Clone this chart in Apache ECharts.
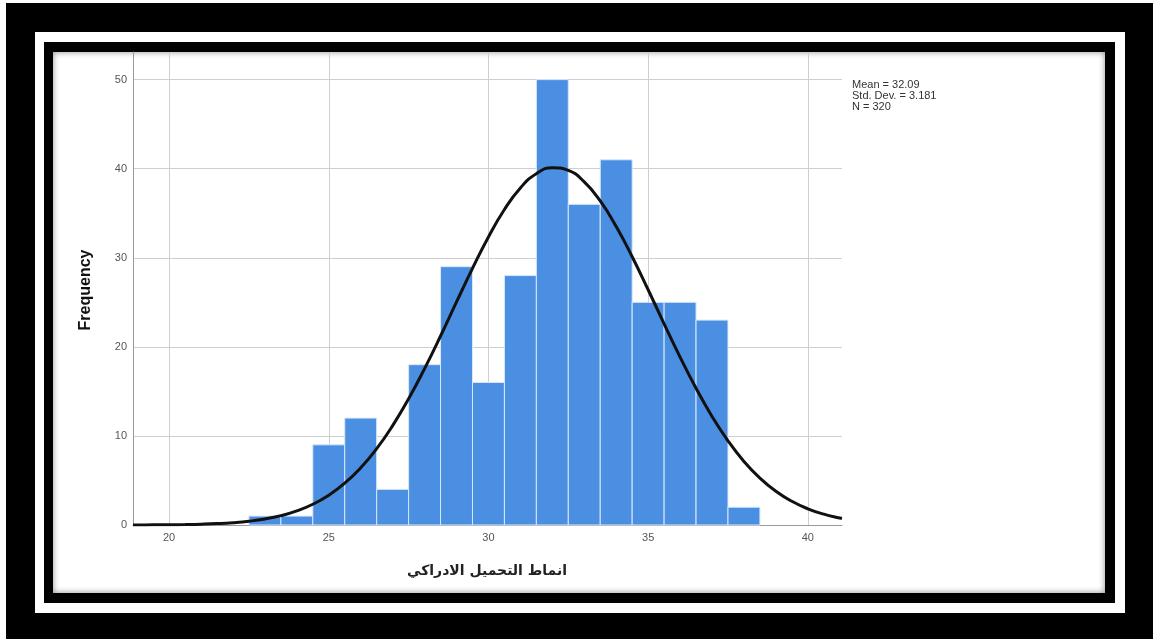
<!DOCTYPE html>
<html>
<head>
<meta charset="utf-8">
<title>Histogram</title>
<script src="https://cdn.jsdelivr.net/npm/echarts@6/dist/echarts.min.js"></script>
<style>
html, body { margin: 0; padding: 0; width: 1153px; height: 639px; overflow: hidden; background: #fff; }
.frame { position: absolute; }
#outer { left: 6px; top: 3px; width: 1147px; height: 636px; background: #000; }
#gap { left: 35px; top: 32px; width: 1090px; height: 581px; background: #fff; }
#inner { left: 44px; top: 42px; width: 1071px; height: 561px; background: #000; }
#paper { left: 53px; top: 52px; width: 1052px; height: 541px; background: #fff; box-shadow: inset 0 0 6px rgba(0,0,0,0.45); }
#main { position: absolute; left: 0; top: 0; width: 1153px; height: 639px; }
</style>
</head>
<body>
<div class="frame" id="outer"></div>
<div class="frame" id="gap"></div>
<div class="frame" id="inner"></div>
<div class="frame" id="paper"></div>
<div id="main"></div>

<script>
// histogram bins (width 1, centred on the integer)
const binCenters = [23, 24, 25, 26, 27, 28, 29, 30, 31, 32, 33, 34, 35, 36, 37, 38]
const frequencies = [1, 1, 9, 12, 4, 18, 29, 16, 28, 50, 36, 41, 25, 25, 23, 2]

// normal curve
const curveX = [18.87, 19, 19.5, 20, 20.5, 21, 21.5, 22, 22.5, 23, 23.5, 24, 24.5, 25, 25.5,
  26, 26.5, 27, 27.5, 28, 28.5, 29, 29.5, 30, 30.5, 31, 31.5, 32, 32.5, 33, 33.5, 34, 34.5,
  35, 35.5, 36, 36.5, 37, 37.5, 38, 38.5, 39, 39.5, 40, 40.5, 41, 41.07]
const curveY = [0.006, 0.008, 0.016, 0.029, 0.053, 0.092, 0.157, 0.262, 0.426, 0.677, 1.05, 1.58, 2.33, 3.35, 4.69,
  6.42, 8.57, 11.16, 14.17, 17.56, 21.22, 25.04, 28.81, 32.34, 35.42, 37.84, 39.44, 40.11, 39.8, 38.52, 36.38, 33.51, 30.12,
  26.41, 22.59, 18.85, 15.35, 12.19, 9.45, 7.14, 5.27, 3.79, 2.66, 1.82, 1.22, 0.79, 0.75]

const statLines = ['Mean = 32.09', 'Std. Dev. = 3.181', 'N = 320']
const xTitle = 'انماط التحميل الادراكي'
const yTitle = 'Frequency'

const barData = binCenters.map((c, i) => [c, frequencies[i]])
const curveData = curveX.map((x, i) => [x, curveY[i]])

const chart = echarts.init(document.getElementById('main'))

chart.setOption({
  animation: false,
  backgroundColor: 'transparent',
  grid: { left: 133, right: 311, top: 52, bottom: 114 },
  xAxis: {
    type: 'value',
    min: 18.87,
    max: 41.07,
    axisLine: { show: true, lineStyle: { color: '#9a9a9a', width: 1 } },
    axisTick: { show: false },
    axisLabel: {
      color: '#555',
      fontSize: 11,
      fontFamily: 'Liberation Sans, Arial, sans-serif',
      margin: 7,
      showMinLabel: false,
      showMaxLabel: false
    },
    splitLine: { show: true, showMinLine: false, showMaxLine: false, lineStyle: { color: '#cfcfcf', width: 1 } }
  },
  yAxis: {
    type: 'value',
    min: 0,
    max: 53.1,
    interval: 10,
    axisLine: { show: true, lineStyle: { color: '#9a9a9a', width: 1 } },
    axisTick: { show: false },
    axisLabel: {
      color: '#555',
      fontSize: 11,
      fontFamily: 'Liberation Sans, Arial, sans-serif',
      margin: 6,
      showMaxLabel: false
    },
    splitLine: { show: true, showMinLine: false, showMaxLine: false, lineStyle: { color: '#cfcfcf', width: 1 } }
  },
  graphic: [
    {
      type: 'text',
      left: 852,
      top: 79,
      style: {
        text: statLines.join('\n'),
        fill: '#333',
        fontSize: 11,
        lineHeight: 11,
        fontFamily: 'Liberation Sans, Arial, sans-serif'
      }
    },
    {
      type: 'text',
      x: 86,
      y: 290,
      rotation: Math.PI / 2,
      style: {
        text: yTitle,
        fill: '#111',
        fontSize: 16,
        fontWeight: 'bold',
        align: 'center',
        verticalAlign: 'middle',
        fontFamily: 'Liberation Sans, Arial, sans-serif'
      }
    },
    {
      type: 'text',
      x: 487,
      y: 571,
      style: {
        text: xTitle,
        fill: '#222',
        fontSize: 14,
        fontWeight: 'bold',
        align: 'center',
        verticalAlign: 'middle',
        fontFamily: 'DejaVu Sans, Noto Sans, sans-serif'
      }
    }
  ],
  series: [
    {
      type: 'custom',
      data: barData,
      encode: { x: 0, y: 1 },
      renderItem: function (params, api) {
        const x = api.value(0)
        const y = api.value(1)
        const p0 = api.coord([x - 0.5, y])
        const p1 = api.coord([x + 0.5, 0])
        return {
          type: 'rect',
          shape: { x: p0[0], y: p0[1], width: p1[0] - p0[0], height: p1[1] - p0[1] },
          style: { fill: '#4a8fe2', stroke: '#d9e8fb', lineWidth: 1 }
        }
      },
      z: 2
    },
    {
      type: 'line',
      data: curveData,
      smooth: true,
      showSymbol: false,
      lineStyle: { color: '#111', width: 3 },
      z: 3
    }
  ]
})
</script>
</body>
</html>
